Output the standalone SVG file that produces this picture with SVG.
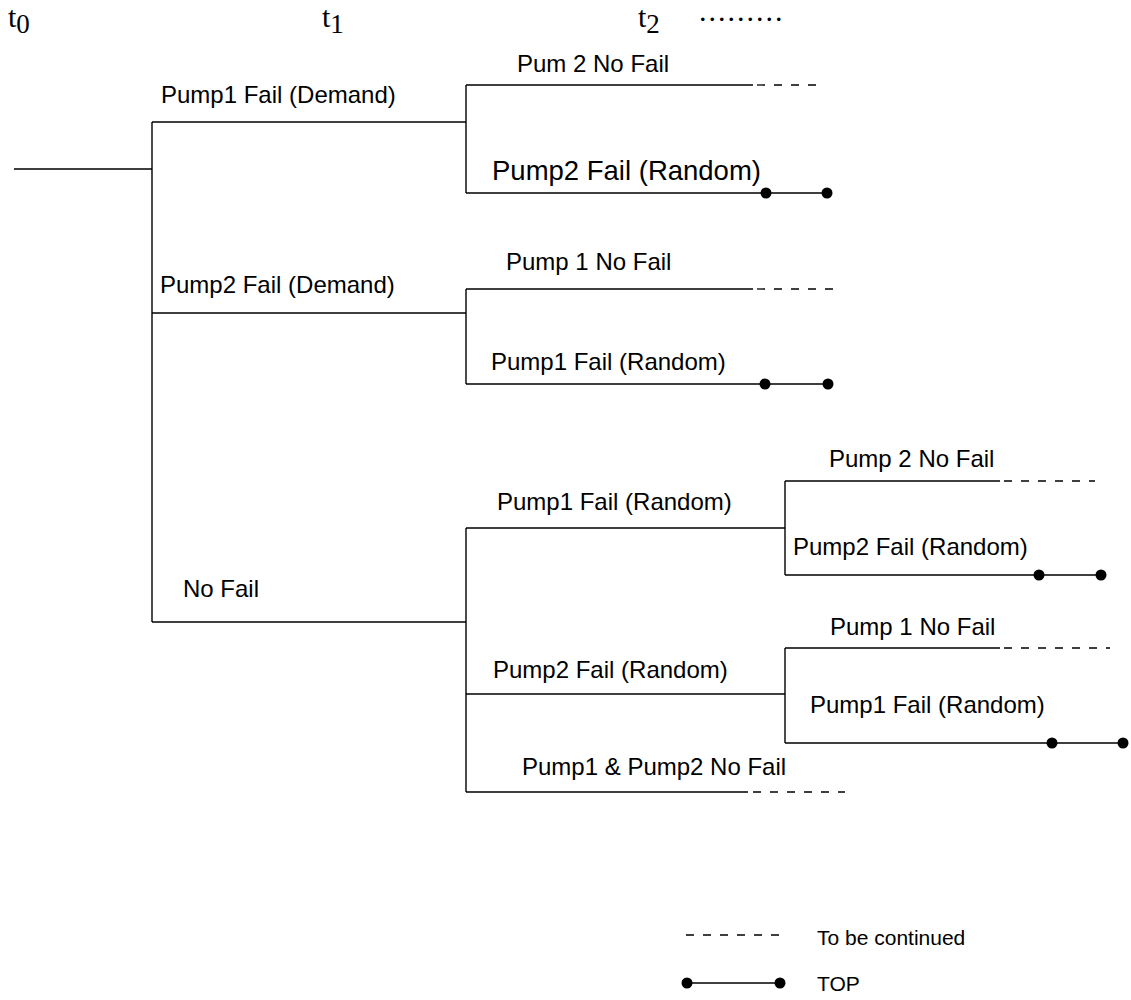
<svg xmlns="http://www.w3.org/2000/svg" width="1131" height="1000" viewBox="0 0 1131 1000">
<style>
.l{stroke:#000;stroke-width:1.4;fill:none}
.d{stroke:#000;stroke-width:1.3;fill:none;stroke-dasharray:8 9}
.t{font-family:"Liberation Sans",Arial,sans-serif;font-size:24px;fill:#000}
.tb{font-family:"Liberation Sans",Arial,sans-serif;font-size:27.5px;fill:#000}
.tl{font-family:"Liberation Sans",Arial,sans-serif;font-size:21px;fill:#000}
.tm{font-family:"Liberation Serif","Times New Roman",serif;font-size:30px;fill:#000}
.dot{fill:#000}
</style>
<rect width="1131" height="1000" fill="#fff"/>
<g id="time-axis">
<text class="tm" x="8" y="27">t<tspan dy="6" font-size="27">0</tspan></text>
<text class="tm" x="322" y="27">t<tspan dy="6" font-size="27">1</tspan></text>
<text class="tm" x="638" y="27">t<tspan dy="6" font-size="27">2</tspan></text>
<text class="tm" x="699" y="21" font-size="16" letter-spacing="2">.........</text>
</g>
<g id="connectors">
<path class="l" d="M14 169H152M152 122V622M152 122H466M152 313H466M152 622H466"/>
<path class="l" d="M466 85V193M466 85H753M466 193H827"/>
<path class="d" d="M757 85H825"/>
<path class="l" d="M466 289V384M466 289H753M466 384H828"/>
<path class="d" d="M757 289H842"/>
<path class="l" d="M466 528V792M466 528H785M466 694H785M466 792H748"/>
<path class="d" d="M753 792H845"/>
<path class="l" d="M785 481V575M785 481H1000M785 575H1101"/>
<path class="d" d="M1004 481H1095"/>
<path class="l" d="M785 648V743M785 648H1000M785 743H1123"/>
<path class="d" d="M1004 648H1110"/>
</g>
<g id="node-pump1-fail-demand"><text class="t" x="161" y="103">Pump1 Fail (Demand)</text></g>
<g id="node-pum2-no-fail"><text class="t" x="517" y="72">Pum 2 No Fail</text></g>
<g id="node-pump2-fail-random-a"><text class="tb" x="492" y="180">Pump2 Fail (Random)</text>
<circle class="dot" cx="766" cy="193" r="5.5"/><circle class="dot" cx="827" cy="193" r="5.5"/></g>
<g id="node-pump2-fail-demand"><text class="t" x="160" y="293">Pump2 Fail (Demand)</text></g>
<g id="node-pump1-no-fail-a"><text class="t" x="506" y="270">Pump 1 No Fail</text></g>
<g id="node-pump1-fail-random-a"><text class="t" x="491" y="370">Pump1 Fail (Random)</text>
<circle class="dot" cx="765" cy="384" r="5.5"/><circle class="dot" cx="828" cy="384" r="5.5"/></g>
<g id="node-no-fail"><text class="t" x="183" y="597">No Fail</text></g>
<g id="node-pump1-fail-random-b"><text class="t" x="497" y="510">Pump1 Fail (Random)</text></g>
<g id="node-pump2-no-fail"><text class="t" x="829" y="467">Pump 2 No Fail</text></g>
<g id="node-pump2-fail-random-b"><text class="t" x="793" y="555">Pump2 Fail (Random)</text>
<circle class="dot" cx="1039" cy="575" r="5.5"/><circle class="dot" cx="1101" cy="575" r="5.5"/></g>
<g id="node-pump2-fail-random-c"><text class="t" x="493" y="678">Pump2 Fail (Random)</text></g>
<g id="node-pump1-no-fail-b"><text class="t" x="830" y="635">Pump 1 No Fail</text></g>
<g id="node-pump1-fail-random-c"><text class="t" x="810" y="713">Pump1 Fail (Random)</text>
<circle class="dot" cx="1052" cy="743" r="5.5"/><circle class="dot" cx="1123" cy="743" r="5.5"/></g>
<g id="node-both-no-fail"><text class="t" x="522" y="775">Pump1 &amp; Pump2 No Fail</text></g>
<g id="legend">
<path class="d" d="M686 935H780" stroke-dasharray="8 8"/>
<text class="tl" x="817" y="945">To be continued</text>
<path class="l" d="M687 983H780"/>
<circle class="dot" cx="687" cy="983" r="5.5"/><circle class="dot" cx="780" cy="983" r="5.5"/>
<text class="tl" x="817" y="991">TOP</text>
</g>
</svg>
